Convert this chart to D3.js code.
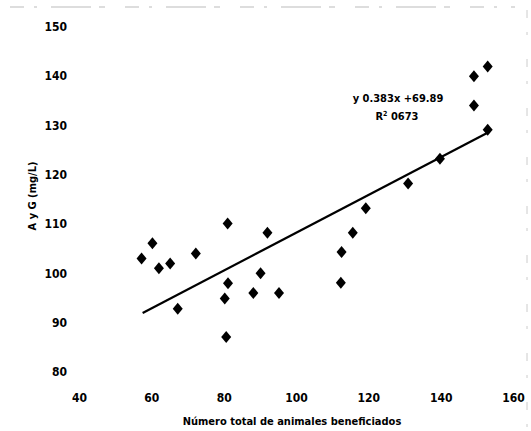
<!DOCTYPE html>
<html>
<head>
<meta charset="utf-8">
<script src="https://cdn.jsdelivr.net/npm/d3@7"></script>
<style>
  body { margin: 0; background: #fff; }
  text { font-family: "DejaVu Sans Condensed", "Liberation Sans Narrow", sans-serif; font-weight: bold; fill: #000; }
</style>
</head>
<body>
<svg id="chart" width="531" height="431"></svg>
<script>
// data
var animales = [57.3, 60.3, 62.1, 65.2, 67.3, 72.3, 81.1, 81.2, 80.3, 80.7, 90.2, 88.2, 92.1, 95.3,
                112.6, 112.4, 115.7, 119.3, 131.0, 139.8, 149.2, 149.2, 153.0, 153.0];
var ayg = [103.0, 106.1, 101.0, 102.0, 92.8, 104.0, 110.1, 98.0, 94.9, 87.1, 100.0, 96.0, 108.2, 96.0,
           104.3, 98.1, 108.2, 113.2, 118.2, 123.2, 134.0, 139.9, 141.9, 129.1];
var xTicks = [40, 60, 80, 100, 120, 140, 160];
var yTicks = [80, 90, 100, 110, 120, 130, 140, 150];
var pendiente = 0.383, intercepto = 69.89;
var trendX = [57.6, 153.5];

var svg = d3.select('#chart');

var x = d3.scaleLinear().domain([40, 160]).range([79, 513]);
var y = d3.scaleLinear().domain([80, 150]).range([372, 26.5]);

// scan noise at the edges
svg.append('line').attr('x1', 10).attr('x2', 515).attr('y1', 7).attr('y2', 7)
  .attr('stroke', '#bbb').attr('stroke-width', 1).attr('stroke-dasharray', '14,10,3,14,40,8,6,20');
svg.append('line').attr('x1', 527).attr('x2', 527).attr('y1', 10).attr('y2', 431)
  .attr('stroke', '#ccc').attr('stroke-width', 1).attr('stroke-dasharray', '8,14,3,24');

// axes: labels only, no lines
svg.append('g').attr('transform', 'translate(0,388)')
  .call(d3.axisBottom(x).tickValues(xTicks).tickSize(0).tickPadding(5));
svg.append('g').attr('transform', 'translate(70,0)')
  .call(d3.axisLeft(y).tickValues(yTicks).tickSize(0).tickPadding(3));
svg.selectAll('.domain').remove();
svg.selectAll('.tick text').style('font-size', '12px').style('font-family', null);

// trend line
svg.append('line')
  .attr('x1', x(trendX[0])).attr('y1', y(pendiente * trendX[0] + intercepto))
  .attr('x2', x(trendX[1])).attr('y2', y(pendiente * trendX[1] + intercepto))
  .attr('stroke', '#000').attr('stroke-width', 2.2);

// points
svg.selectAll('path.pt')
  .data(animales.map(function(d, i) { return [d, ayg[i]]; }))
  .enter().append('path')
    .attr('class', 'pt')
    .attr('d', 'M0,-6L5,0L0,6L-5,0Z')
    .attr('transform', function(d) { return 'translate(' + x(d[0]) + ',' + y(d[1]) + ')'; })
    .attr('fill', '#000');

// equation
svg.append('text').attr('x', 398).attr('y', 102).attr('text-anchor', 'middle')
  .style('font-size', '11px').text('y 0.383x +69.89');
var r2 = svg.append('text').attr('x', 397).attr('y', 120).attr('text-anchor', 'middle')
  .style('font-size', '11px');
r2.append('tspan').text('R');
r2.append('tspan').attr('dy', -4).style('font-size', '7px').text('2');
r2.append('tspan').attr('dy', 4).text('  0673');

// axis titles
svg.append('text').attr('x', 292).attr('y', 425).attr('text-anchor', 'middle')
  .style('font-size', '11px').text('Número total de animales beneficiados');
svg.append('text').attr('transform', 'translate(36,196) rotate(-90)').attr('text-anchor', 'middle')
  .style('font-size', '11px').text('A y G (mg/L)');
</script>
</body>
</html>
